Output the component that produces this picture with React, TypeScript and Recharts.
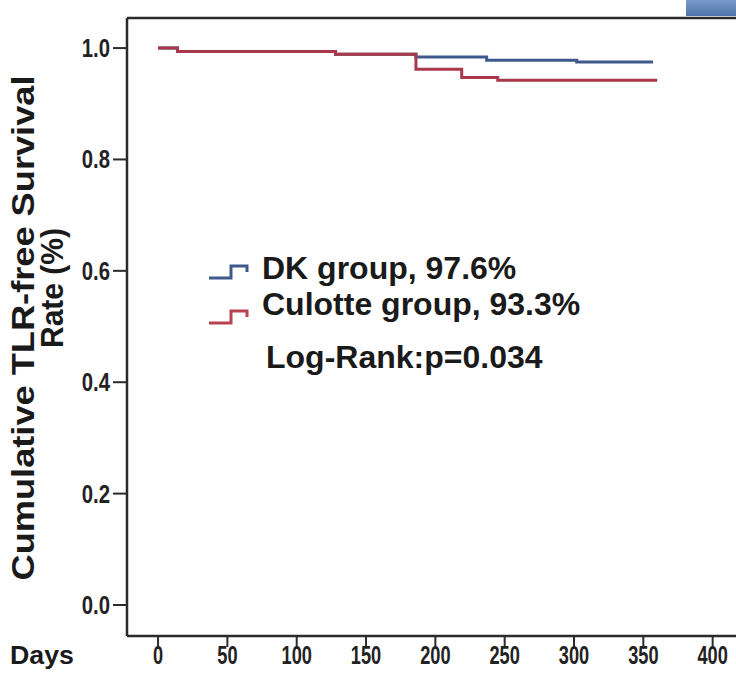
import React from 'react'
import { LineChart, Line, XAxis, YAxis, ReferenceLine } from 'recharts'

// Kaplan-Meier steps (days -> cumulative survival)
const dkDays = [0, 14, 128, 186, 237, 302, 357]
const dkRate = [1.0, 0.994, 0.989, 0.984, 0.978, 0.975, 0.975]
const culotteDays = [0, 14, 128, 186, 219, 245, 360]
const culotteRate = [1.0, 0.994, 0.989, 0.962, 0.947, 0.942, 0.942]

const xTicks = [0, 50, 100, 150, 200, 250, 300, 350, 400]
const yTicks = [0.0, 0.2, 0.4, 0.6, 0.8, 1.0]

const legendItems = [
  { label: 'DK group, 97.6%', color: '#3e5a8c' },
  { label: 'Culotte group, 93.3%', color: '#b8434f' },
]
const logRankText = 'Log-Rank:p=0.034'

const dkData = dkDays.map((d, i) => ({ day: d, dk: dkRate[i] }))
const culotteData = culotteDays.map((d, i) => ({ day: d, culotte: culotteRate[i] }))

const font = '"Liberation Sans", Arial, sans-serif'
const axisColor = '#2b2b2b'

function XTick({ x, payload }: any) {
  return (
    <text
      transform={`translate(${x},664) scale(0.7,1)`}
      textAnchor="middle"
      fontFamily={font}
      fontWeight={700}
      fontSize={26}
      fill="#222"
    >
      {payload.value}
    </text>
  )
}

function YTick({ y, payload }: any) {
  return (
    <text
      transform={`translate(110,${y + 9}) scale(0.78,1)`}
      textAnchor="end"
      fontFamily={font}
      fontWeight={700}
      fontSize={26}
      fill="#222"
    >
      {Number(payload.value).toFixed(1)}
    </text>
  )
}

function StepIcon({ x, y, color }: { x: number; y: number; color: string }) {
  return (
    <path
      d={`M${x},${y + 12} H${x + 22} V${y} H${x + 38} V${y + 6}`}
      fill="none"
      stroke={color}
      strokeWidth={3}
    />
  )
}

export default function App() {
  return (
    <div
      style={{
        position: 'absolute',
        left: 0,
        top: 0,
        width: 736,
        height: 680,
        overflow: 'hidden',
        background: '#fff',
      }}
    >
      <div
        style={{
          position: 'absolute',
          left: 686,
          top: 0,
          width: 50,
          height: 16,
          background: 'linear-gradient(#7a9bcb, #4f72a8)',
        }}
      />
      <LineChart width={800} height={680} margin={{ top: 18, right: 0, left: 67, bottom: 14 }}>
        <XAxis
          dataKey="day"
          type="number"
          domain={[-22.4, 463]}
          ticks={xTicks}
          allowDataOverflow
          axisLine={{ stroke: axisColor, strokeWidth: 2.5 }}
          tickLine={{ stroke: axisColor, strokeWidth: 2 }}
          tickSize={11}
          height={30}
          tick={<XTick />}
        />
        <YAxis
          type="number"
          domain={[-0.0557, 1.054]}
          ticks={yTicks}
          allowDataOverflow
          axisLine={{ stroke: axisColor, strokeWidth: 2.5 }}
          tickLine={{ stroke: axisColor, strokeWidth: 2 }}
          tickSize={14}
          width={60}
          tick={<YTick />}
        />
        <ReferenceLine y={1.054} stroke={axisColor} strokeWidth={2.5} />
        <Line
          data={dkData}
          dataKey="dk"
          type="stepAfter"
          stroke="#3e5a8c"
          strokeWidth={3}
          dot={false}
          isAnimationActive={false}
        />
        <Line
          data={culotteData}
          dataKey="culotte"
          type="stepAfter"
          stroke="#a8384a"
          strokeWidth={3}
          dot={false}
          isAnimationActive={false}
        />
      </LineChart>
      <svg
        width={736}
        height={680}
        style={{ position: 'absolute', left: 0, top: 0, pointerEvents: 'none' }}
      >
        <g fontFamily={font} fontWeight={700} fill="#1a1a1a">
          <text
            transform="translate(34,328) rotate(-90)"
            textAnchor="middle"
            fontSize={32}
            textLength={505}
            lengthAdjust="spacingAndGlyphs"
          >
            Cumulative TLR-free Survival
          </text>
          <text
            transform="translate(63,288) rotate(-90)"
            textAnchor="middle"
            fontSize={31}
            textLength={120}
            lengthAdjust="spacingAndGlyphs"
          >
            Rate (%)
          </text>
          <text x={10} y={664} fontSize={26} textLength={64} lengthAdjust="spacingAndGlyphs">
            Days
          </text>
          {legendItems.map((item, i) => (
            <g key={item.label}>
              <StepIcon x={209} y={i === 0 ? 266 : 311} color={item.color} />
              <text x={262} y={i === 0 ? 279 : 315} fontSize={32}>
                {item.label}
              </text>
            </g>
          ))}
          <text x={266} y={368} fontSize={32}>
            {logRankText}
          </text>
        </g>
      </svg>
    </div>
  )
}
